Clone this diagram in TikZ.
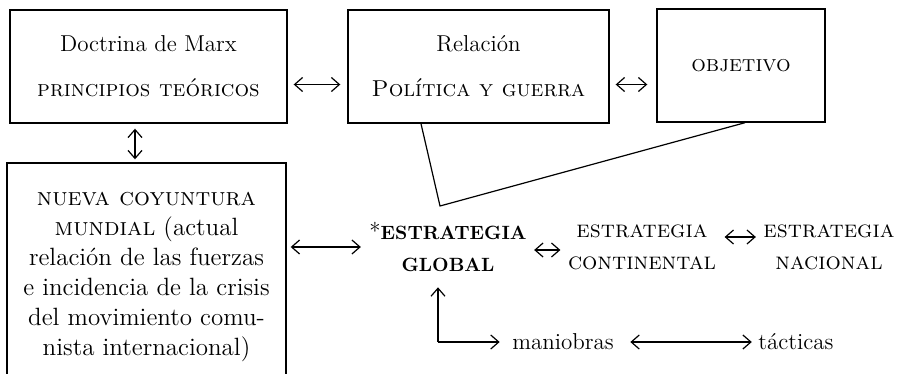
\documentclass[tikz,border=0pt]{standalone}
\usepackage{tikz}
\usetikzlibrary{arrows.meta,positioning,calc}

% bold small capitals
\newcommand{\bsc}[1]{{\bfseries\fontsize{9.6}{16}\selectfont #1}}

\begin{document}
\begin{tikzpicture}[x=0.5pt, y=-0.5pt, >={Straight Barb[length=4pt,width=7pt]}, line width=0.6pt, font=\fontsize{11.5}{15}\selectfont]
\tikzstyle{box}=[draw, line width=0.7pt, align=center, inner sep=0pt]
\tikzstyle{word}=[align=center, inner sep=1pt]

\useasboundingbox (0,0) rectangle (915,374);
\clip (0,0) rectangle (915,374);

\node[box, minimum width=138.5pt, minimum height=56.5pt] (marx) at (148.5,66.5) {Doctrina de Marx\\[7.5pt]\textsc{principios teóricos}};
\node[box, minimum width=130.5pt, minimum height=56.5pt] (rel)  at (478.5,66.5) {Relación\\[7.5pt]\textsc{Política y guerra}};
\node[box, minimum width=84pt,    minimum height=56.5pt] (obj)  at (741,65.5)   {\textsc{objetivo}};
\node[box, minimum width=139.5pt, minimum height=114pt, font=\fontsize{12.5}{15}\selectfont] (coy) at (146.5,277)
  {\textsc{nueva coyuntura}\\\textsc{mundial} (actual\\relación de las fuerzas\\e incidencia de la crisis\\del movimiento comu-\\nista internacional)};

\node[word, font=\fontsize{11.5}{16}\selectfont] (glob) at (448,247) {*\bsc{ESTRATEGIA}\\\bsc{GLOBAL}};
\node[word, font=\fontsize{12}{16}\selectfont] (cont) at (642,247) {\textsc{estrategia}\\\textsc{continental}};
\node[word, font=\fontsize{12}{16}\selectfont] (nac)  at (829,247) {\textsc{estrategia}\\\textsc{nacional}};
\node[word] (man) at (563,342) {maniobras};
\node[word] (tac) at (796,342) {tácticas};

\coordinate (joint) at (440,206);
\coordinate (bend)  at (438,342);

\path ([xshift=3pt,yshift=-9pt]marx.east) edge [<->] ([xshift=-3.5pt,yshift=-9pt]rel.west);
\path ([xshift=3pt,yshift=-9pt]rel.east)  edge [<->] ([xshift=-4.5pt,yshift=-9.5pt]obj.west);
\path ([xshift=-6.75pt]marx.south) edge [<->, shorten <=2.5pt, shorten >=1.5pt] ([xshift=-6.75pt]marx.south |- coy.north);
\path (coy.east |- glob.west) edge [<->, shorten <=2pt, shorten >=3pt] (glob.west);
\path ([yshift=-1.5pt]glob.east) edge [<->, shorten <=2.5pt, shorten >=2.5pt] ([yshift=-1.5pt]cont.west);
\path ([yshift=5pt]cont.east) edge [<->, shorten <=3pt, shorten >=2.5pt] ([yshift=5pt]nac.west);

\draw ([xshift=-28.75pt]rel.south) -- (joint) -- ([xshift=2pt]obj.south);

\path (bend) edge [->, shorten >=6.5pt] (bend |- glob.south);
\path (bend) edge [->, shorten >=5pt] (man.west);
\path (man.east) edge [<->, shorten <=7pt, shorten >=2pt] (tac.west);

\end{tikzpicture}
\end{document}
